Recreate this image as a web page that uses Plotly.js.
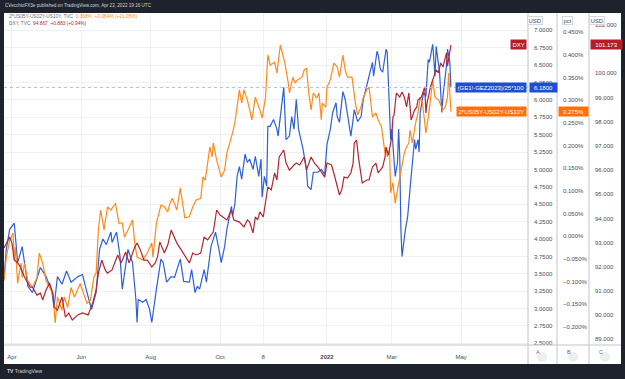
<!DOCTYPE html>
<html><head><meta charset="utf-8">
<script src="https://cdn.plot.ly/plotly-3.0.1.min.js"></script>
<style>html,body{margin:0;padding:0;background:#1e222d;}#chart{width:625px;height:379px;}</style>
</head><body><div id="chart"></div>
<script>
// ---- data ----
const blueDates = ["2021-03-25","2021-03-27","2021-03-30","2021-04-03","2021-04-06","2021-04-10","2021-04-15","2021-04-19","2021-04-26","2021-05-01","2021-05-06","2021-05-08","2021-05-11","2021-05-15","2021-05-19","2021-05-23","2021-05-29","2021-06-02","2021-06-06","2021-06-10","2021-06-14","2021-06-17","2021-06-20","2021-06-23","2021-06-27","2021-06-28","2021-07-02","2021-07-05","2021-07-07","2021-07-12","2021-07-16","2021-07-19","2021-07-20","2021-07-21","2021-07-25","2021-07-28","2021-07-31","2021-08-02","2021-08-06","2021-08-10","2021-08-12","2021-08-15","2021-08-19","2021-08-22","2021-08-26","2021-08-27","2021-08-30","2021-09-04","2021-09-06","2021-09-08","2021-09-09","2021-09-11","2021-09-13","2021-09-17","2021-09-19","2021-09-23","2021-09-27","2021-09-30","2021-10-02","2021-10-05","2021-10-07","2021-10-11","2021-10-12","2021-10-14","2021-10-16","2021-10-18","2021-10-20","2021-10-23","2021-10-25","2021-10-27","2021-10-30","2021-11-01","2021-11-04","2021-11-06","2021-11-07","2021-11-09","2021-11-11","2021-11-12","2021-11-14","2021-11-17","2021-11-20","2021-11-21","2021-11-24","2021-11-26","2021-11-27","2021-11-28","2021-12-01","2021-12-03","2021-12-05","2021-12-07","2021-12-09","2021-12-13","2021-12-16","2021-12-17","2021-12-20","2021-12-22","2021-12-26","2021-12-29","2022-01-01","2022-01-03","2022-01-06","2022-01-08","2022-01-11","2022-01-12","2022-01-14","2022-01-17","2022-01-19","2022-01-21","2022-01-24","2022-01-26","2022-01-27","2022-01-30","2022-02-02","2022-02-04","2022-02-07","2022-02-09","2022-02-12","2022-02-13","2022-02-16","2022-02-17","2022-02-19","2022-02-21","2022-02-24","2022-02-25","2022-02-28","2022-03-01","2022-03-04","2022-03-06","2022-03-07","2022-03-08","2022-03-09","2022-03-10","2022-03-13","2022-03-15","2022-03-17","2022-03-19","2022-03-21","2022-03-22","2022-03-24","2022-03-25","2022-03-26","2022-03-29","2022-03-31","2022-04-02","2022-04-03","2022-04-06","2022-04-07","2022-04-08","2022-04-09","2022-04-12","2022-04-14","2022-04-15","2022-04-18","2022-04-19","2022-04-21","2022-04-22"];
const blueValues = [3.42,3.85,4.14,4.23,3.66,3.89,3.32,3.23,3.59,3.46,3.25,3.02,3.46,3.35,3.54,3.38,3.46,3.49,3.23,2.99,3.23,3.85,4.00,3.92,4.10,3.95,4.10,3.75,3.28,3.85,3.66,3.13,2.80,3.13,3.09,3.13,2.99,2.80,3.28,3.71,3.66,3.38,3.46,3.45,3.66,3.71,3.39,3.38,3.56,3.28,3.23,3.32,3.28,3.56,3.38,3.89,4.10,3.85,3.66,3.89,4.14,4.47,4.33,4.50,4.90,5.04,4.86,5.22,5.10,5.15,5.00,5.19,4.90,5.15,4.60,4.90,4.76,5.62,5.62,5.72,5.58,5.48,5.86,6.18,5.82,5.43,5.48,5.76,5.58,6.01,5.58,5.29,5.00,4.76,4.71,4.96,4.96,5.00,4.93,5.36,5.58,5.82,5.96,5.76,5.68,6.12,6.01,5.82,5.48,5.72,5.86,5.69,5.76,6.01,6.19,6.34,6.54,6.34,6.70,6.65,6.44,6.40,6.73,6.68,5.43,5.58,4.90,5.10,5.58,5.19,4.14,3.75,4.14,4.33,4.71,5.04,5.43,5.29,5.43,5.25,5.82,6.11,6.05,6.58,6.54,6.80,6.58,6.34,6.77,6.40,5.82,6.05,6.48,6.73,6.55,6.18];

const orangeDates = ["2021-03-25","2021-03-27","2021-03-30","2021-04-02","2021-04-03","2021-04-04","2021-04-06","2021-04-09","2021-04-10","2021-04-12","2021-04-15","2021-04-19","2021-04-23","2021-04-25","2021-04-28","2021-05-01","2021-05-04","2021-05-07","2021-05-09","2021-05-11","2021-05-15","2021-05-17","2021-05-20","2021-05-23","2021-05-26","2021-05-31","2021-06-04","2021-06-06","2021-06-09","2021-06-12","2021-06-14","2021-06-16","2021-06-18","2021-06-21","2021-06-24","2021-06-27","2021-07-01","2021-07-04","2021-07-07","2021-07-09","2021-07-12","2021-07-16","2021-07-18","2021-07-20","2021-07-25","2021-07-29","2021-08-02","2021-08-03","2021-08-06","2021-08-10","2021-08-13","2021-08-16","2021-08-18","2021-08-20","2021-08-24","2021-08-27","2021-08-31","2021-09-04","2021-09-07","2021-09-10","2021-09-14","2021-09-16","2021-09-18","2021-09-22","2021-09-24","2021-09-25","2021-09-28","2021-10-02","2021-10-05","2021-10-07","2021-10-12","2021-10-14","2021-10-18","2021-10-20","2021-10-22","2021-10-25","2021-10-27","2021-10-29","2021-11-01","2021-11-02","2021-11-05","2021-11-07","2021-11-10","2021-11-12","2021-11-14","2021-11-18","2021-11-20","2021-11-23","2021-11-25","2021-11-27","2021-11-30","2021-12-01","2021-12-04","2021-12-06","2021-12-08","2021-12-12","2021-12-14","2021-12-16","2021-12-18","2021-12-20","2021-12-22","2021-12-25","2021-12-27","2021-12-29","2021-12-30","2022-01-02","2022-01-03","2022-01-06","2022-01-09","2022-01-12","2022-01-14","2022-01-17","2022-01-19","2022-01-21","2022-01-25","2022-01-26","2022-01-28","2022-01-30","2022-02-02","2022-02-04","2022-02-07","2022-02-09","2022-02-12","2022-02-15","2022-02-17","2022-02-20","2022-02-21","2022-02-23","2022-02-24","2022-02-25","2022-02-27","2022-02-28","2022-03-02","2022-03-04","2022-03-06","2022-03-08","2022-03-10","2022-03-12","2022-03-14","2022-03-16","2022-03-17","2022-03-19","2022-03-22","2022-03-24","2022-03-26","2022-03-28","2022-03-31","2022-04-03","2022-04-06","2022-04-08","2022-04-11","2022-04-14","2022-04-15","2022-04-17","2022-04-19","2022-04-20","2022-04-21","2022-04-22"];
const orangeValues = [-0.098,-0.046,-0.009,0.007,-0.052,-0.024,-0.104,-0.059,-0.091,-0.059,-0.098,-0.113,-0.091,-0.037,-0.059,-0.098,-0.113,-0.126,-0.191,-0.134,-0.163,-0.134,-0.157,-0.113,-0.134,-0.104,-0.134,-0.148,-0.141,-0.091,-0.081,0.014,0.058,0.014,0.065,0.058,0.073,0.029,0.029,-0.002,0.014,0.036,-0.015,-0.046,-0.052,-0.037,-0.015,-0.046,0.029,0.069,0.065,0.054,0.073,0.084,0.058,0.107,0.041,0.043,0.065,0.080,0.084,0.131,0.124,0.197,0.175,0.206,0.168,0.131,0.146,0.184,0.228,0.250,0.323,0.294,0.323,0.301,0.279,0.257,0.307,0.301,0.279,0.261,0.307,0.400,0.378,0.384,0.360,0.422,0.404,0.382,0.338,0.316,0.351,0.338,0.345,0.351,0.367,0.371,0.316,0.279,0.316,0.305,0.316,0.257,0.294,0.285,0.329,0.345,0.382,0.374,0.351,0.400,0.367,0.351,0.351,0.327,0.294,0.268,0.285,0.307,0.323,0.329,0.263,0.272,0.257,0.241,0.219,0.184,0.197,0.175,0.190,0.096,0.118,0.073,0.102,0.131,0.153,0.184,0.197,0.206,0.234,0.206,0.250,0.272,0.307,0.294,0.228,0.279,0.345,0.307,0.301,0.285,0.279,0.285,0.307,0.360,0.327,0.275];

const redDates = ["2021-03-25","2021-03-30","2021-04-01","2021-04-03","2021-04-06","2021-04-08","2021-04-12","2021-04-17","2021-04-19","2021-04-23","2021-04-26","2021-04-28","2021-05-01","2021-05-04","2021-05-07","2021-05-08","2021-05-11","2021-05-15","2021-05-18","2021-05-21","2021-05-24","2021-05-29","2021-06-02","2021-06-07","2021-06-11","2021-06-14","2021-06-16","2021-06-19","2021-06-22","2021-06-24","2021-06-28","2021-07-01","2021-07-03","2021-07-06","2021-07-10","2021-07-13","2021-07-16","2021-07-18","2021-07-20","2021-07-23","2021-07-26","2021-07-29","2021-08-02","2021-08-05","2021-08-07","2021-08-09","2021-08-13","2021-08-16","2021-08-19","2021-08-24","2021-08-28","2021-09-02","2021-09-04","2021-09-07","2021-09-10","2021-09-14","2021-09-17","2021-09-20","2021-09-25","2021-09-28","2021-10-01","2021-10-07","2021-10-11","2021-10-13","2021-10-18","2021-10-22","2021-10-25","2021-10-27","2021-10-30","2021-11-01","2021-11-03","2021-11-05","2021-11-08","2021-11-12","2021-11-15","2021-11-18","2021-11-20","2021-11-22","2021-11-26","2021-11-28","2021-11-30","2021-12-01","2021-12-05","2021-12-07","2021-12-10","2021-12-14","2021-12-16","2021-12-20","2021-12-23","2021-12-26","2021-12-29","2022-01-01","2022-01-03","2022-01-07","2022-01-09","2022-01-11","2022-01-14","2022-01-16","2022-01-18","2022-01-21","2022-01-24","2022-01-26","2022-01-27","2022-01-29","2022-01-31","2022-02-03","2022-02-07","2022-02-09","2022-02-12","2022-02-15","2022-02-17","2022-02-21","2022-02-23","2022-02-24","2022-02-26","2022-03-01","2022-03-02","2022-03-03","2022-03-05","2022-03-08","2022-03-10","2022-03-12","2022-03-14","2022-03-16","2022-03-18","2022-03-21","2022-03-23","2022-03-24","2022-03-27","2022-03-30","2022-03-31","2022-04-01","2022-04-04","2022-04-06","2022-04-09","2022-04-11","2022-04-13","2022-04-15","2022-04-18","2022-04-19","2022-04-21","2022-04-22"];
const redValues = [92.78,93.23,92.98,92.28,92.16,92.03,91.58,91.16,91.16,90.83,90.91,90.63,91.04,91.33,90.91,90.34,90.21,90.75,89.92,90.09,89.80,90.01,90.09,90.01,90.50,91.04,91.74,92.28,91.87,91.74,91.87,92.28,92.49,92.16,92.61,92.16,92.57,92.82,92.98,92.69,92.28,92.28,91.99,92.16,92.41,93.03,92.57,92.90,93.52,92.98,92.69,92.28,92.16,92.57,92.49,92.57,93.23,93.11,93.44,94.35,94.14,93.94,94.35,93.94,93.85,93.65,93.94,93.85,93.40,94.06,93.94,94.27,94.06,95.30,95.18,95.88,95.59,96.54,96.83,96.29,96.13,96.00,96.21,96.29,96.21,96.54,96.00,96.54,96.29,96.13,95.92,95.71,96.29,96.21,95.88,95.47,94.97,95.18,95.71,95.67,95.88,96.29,97.12,97.24,96.42,95.47,95.59,95.59,96.13,96.29,95.88,96.13,96.54,96.95,96.62,97.37,98.20,98.28,99.19,99.02,99.23,99.02,98.61,99.19,98.07,98.48,98.61,98.90,99.02,99.44,98.36,98.77,99.44,99.73,100.14,100.02,100.43,100.26,100.84,100.30,100.97,101.173];

const xTickDates = ["2021-04-01","2021-06-01","2021-08-01","2021-10-01","2021-11-08","2022-01-03","2022-03-01","2022-05-01"];
const xTickLabels = ["Apr","Jun","Aug","Oct","8","<b>2022</b>","Mar","May"];
const dxyTicks = [89, 90, 91, 92, 93, 94, 95, 96, 97, 98, 99, 100, 102];

const blueName = "(GE1!-GEZ2023)/25*100";
const orangeName = "2*US05Y-US02Y-US10Y";
const redName = "DXY";
const blueLast = 6.18, orangeLast = 0.275, redLast = 101.173;

// ---- styling ----
const BLUE = '#2f5fd8', ORANGE = '#ff8a1c', RED = '#b42632';
const BLUE_BOX = '#1f4fd1', ORANGE_BOX = '#ff7009', RED_BOX = '#b71c2a';
const FONT = 'Liberation Sans, Arial, sans-serif';
const GRID = '#eef0f4', SEP = '#c3c5ca', LBL = '#4a4d55';
const FS = 6;

const traces = [
  {x: orangeDates, y: orangeValues, yaxis: 'y2', type: 'scatter', mode: 'lines', line: {color: ORANGE, width: 1.2}, name: orangeName},
  {x: redDates, y: redValues, yaxis: 'y3', type: 'scatter', mode: 'lines', line: {color: RED, width: 1.2}, name: redName},
  {x: blueDates, y: blueValues, yaxis: 'y', type: 'scatter', mode: 'lines', line: {color: BLUE, width: 1.2}, name: blueName}
];

const XD = 0.8493, PB = 0.8963, PC = 0.9481;
const yAxisCommon = {side: 'right', anchor: 'free', showline: false, zeroline: false, ticks: '', fixedrange: true,
  tickfont: {family: FONT, size: FS, color: LBL}, ticklabelstandoff: 5};

const badge = (x, t) => ({xref: 'paper', yref: 'paper', x: x, y: 0.9915, showarrow: false, text: t, bgcolor: '#ffffff',
  bordercolor: '#d6d8dd', borderwidth: 1, borderpad: 0.5, font: {family: FONT, size: FS, color: LBL}});
const letter = (x, t) => ({xref: 'paper', yref: 'paper', x: x, y: -0.0361, showarrow: false, text: t, font: {family: FONT, size: 5.5, color: '#6a6d78'}});
const circle = (x) => ({type: 'circle', xref: 'paper', yref: 'paper', xsizemode: 'pixel', ysizemode: 'pixel', xanchor: x, yanchor: -0.0361,
  x0: -5, x1: 5, y0: -5, y1: 5, fillcolor: '#eceef2', line: {width: 0}});
const priceBox = (x, xanchor, yref, y, t, bg, w) => {
  const a = {xref: 'paper', yref: yref, x: x, y: y, xanchor: xanchor, yanchor: 'middle', showarrow: false, text: t,
    bgcolor: bg, font: {family: FONT, size: FS, color: '#ffffff'}, borderpad: 1.5};
  if (w) a.width = w;
  return a;
};

const layout = {
  width: 625, height: 379,
  margin: {l: 4, r: 4, t: 13, b: 34},
  paper_bgcolor: '#1e222d', plot_bgcolor: '#ffffff',
  showlegend: false,
  font: {family: FONT, size: FS, color: LBL},
  xaxis: {domain: [0, XD], type: 'date', range: ['2021-03-25', '2022-06-28T19:00'],
    tickvals: xTickDates, ticktext: xTickLabels, showgrid: true, gridcolor: GRID, gridwidth: 1,
    zeroline: false, showline: false, ticks: 'outside', ticklen: 6, tickcolor: 'rgba(0,0,0,0)',
    tickfont: {family: FONT, size: FS, color: LBL}},
  yaxis: Object.assign({}, yAxisCommon, {position: XD, range: [2.4765, 7.2495], dtick: 0.25, tick0: 0,
    tickformat: '.4f', showgrid: true, gridcolor: GRID, gridwidth: 1}),
  yaxis2: Object.assign({}, yAxisCommon, {overlaying: 'y', position: PB, range: [-0.2398, 0.4926], dtick: 0.05, tick0: 0,
    tickformat: '.3f', ticksuffix: '%', showgrid: false}),
  yaxis3: Object.assign({}, yAxisCommon, {overlaying: 'y', position: PC, range: [88.766, 102.496], tickmode: 'array', tickvals: dxyTicks,
    tickformat: '.3f', showgrid: false}),
  shapes: [
    {type: 'rect', xref: 'paper', yref: 'paper', x0: 0, x1: 1, y0: -0.0572, y1: 1, fillcolor: '#ffffff', line: {width: 0}, layer: 'below'},
    {type: 'line', xref: 'paper', yref: 'paper', x0: 0, x1: 1, y0: 0, y1: 0, line: {color: SEP, width: 1}},
    {type: 'line', xref: 'paper', yref: 'paper', x0: XD, x1: XD, y0: -0.0572, y1: 1, line: {color: SEP, width: 1}},
    {type: 'line', xref: 'paper', yref: 'paper', x0: PB, x1: PB, y0: -0.0572, y1: 1, line: {color: SEP, width: 1}},
    {type: 'line', xref: 'paper', yref: 'paper', x0: PC, x1: PC, y0: -0.0572, y1: 1, line: {color: SEP, width: 1}},
    {type: 'line', xref: 'paper', yref: 'y', x0: 0, x1: XD, y0: blueLast, y1: blueLast, line: {color: '#a9bdf0', width: 1, dash: 'dot'}},
    circle(0.872), circle(0.9222), circle(0.974)
  ],
  annotations: [
    {xref: 'paper', yref: 'paper', x: -0.0016, y: 1.0211, xanchor: 'left', yanchor: 'middle', showarrow: false,
      text: 'CVecchioFX3e published on TradingView.com, Apr 22, 2022 19:16 UTC', font: {family: FONT, size: 4.6, color: '#d1d4dc'}},
    {xref: 'paper', yref: 'paper', x: 0.0049, y: 0.988, xanchor: 'left', yanchor: 'middle', showarrow: false,
      text: '<span style="color:#6a6d78">' + orangeName + ', TVC</span>  <span style="color:' + ORANGE + '">0.368%  +0.064% (+21.05%)</span>', font: {family: FONT, size: 4.8}},
    {xref: 'paper', yref: 'paper', x: 0.0049, y: 0.967, xanchor: 'left', yanchor: 'middle', showarrow: false,
      text: '<span style="color:#6a6d78">' + redName + ', TVC</span>  <span style="color:' + RED + '">94.867  +0.883 (+0.94%)</span>', font: {family: FONT, size: 4.8}},
    // price labels
    priceBox(XD - 0.0015, 'right', 'y3', redLast, redName, RED_BOX),
    priceBox(PC + 0.0015, 'left', 'y3', redLast, '101.173', RED_BOX, 28),
    priceBox(XD - 0.0015, 'right', 'y', blueLast, blueName, BLUE_BOX),
    priceBox(XD + 0.0015, 'left', 'y', blueLast, '6.1800', BLUE_BOX, 24),
    priceBox(XD - 0.0015, 'right', 'y2', orangeLast, orangeName, ORANGE_BOX),
    priceBox(PB + 0.0015, 'left', 'y2', orangeLast, '0.275%', ORANGE_BOX, 26),
    // unit badges
    badge(0.8736, 'USD'), badge(0.923, 'pct'), badge(0.9733, 'USD'),
    // bottom scale letters
    letter(0.872, 'A'), letter(0.9222, 'B'), letter(0.974, 'C'),
    // footer
    {xref: 'paper', yref: 'paper', x: 0.0016, y: -0.0783, xanchor: 'left', yanchor: 'middle', showarrow: false,
      text: '<b>TV</b> TradingView', font: {family: FONT, size: 5, color: '#d1d4dc'}}
  ]
};

Plotly.newPlot('chart', traces, layout, {staticPlot: true, displayModeBar: false});
</script>
</body></html>
